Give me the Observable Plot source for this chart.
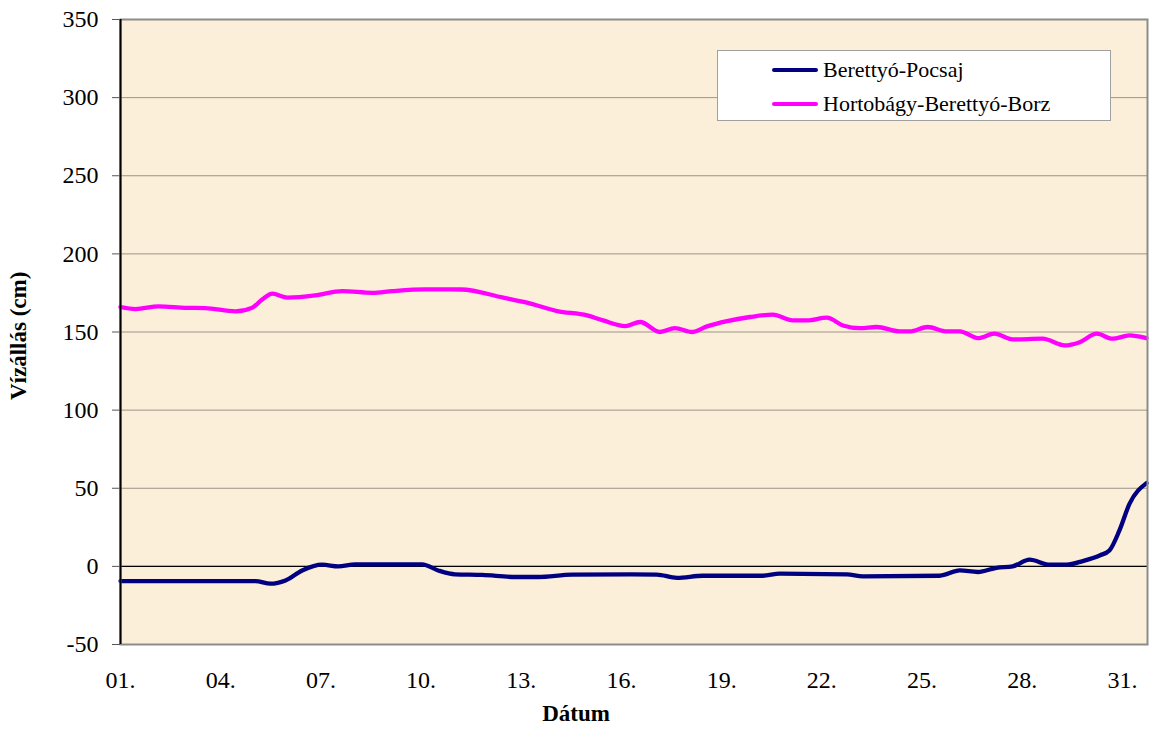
<!DOCTYPE html>
<html>
<head>
<meta charset="utf-8">
<script src="https://cdn.jsdelivr.net/npm/d3@7"></script>
<script src="https://cdn.jsdelivr.net/npm/@observablehq/plot@0.6"></script>
<style>
  body { margin: 0; background: #ffffff; }
  #wrap { position: relative; width: 1151px; height: 735px; }
  .legend { position: absolute; left: 717px; top: 50px; width: 394px; height: 71px;
            background: #ffffff; border: 1px solid #a0a0a0; box-sizing: border-box;
            font-family: "Liberation Serif", "Times New Roman", serif; font-size: 22px; color: #000; }
  .legend .item { position: absolute; left: 54px; height: 26px; display: flex; align-items: center; }
  .legend .swatch { width: 46px; height: 4px; border-radius: 2px; margin-right: 5px; }
</style>
</head>
<body>
<div id="wrap"></div>
<script>
// ---- data ----
const seriesNames = ["Berettyó-Pocsaj", "Hortobágy-Berettyó-Borz"];
const seriesColors = ["#000080", "#FF00FF"];

const pocsajDays = [1.0, 2.0, 3.0, 4.0, 5.04, 5.49, 5.94, 6.44, 7.04, 7.52, 8.03, 9.0, 10.03, 10.51, 11.02, 11.83,
  12.82, 13.5, 14.52, 16.3, 17.06, 17.66, 18.44, 20.23, 20.74, 22.75, 23.23, 25.53, 26.13, 26.67, 27.23, 27.71,
  28.22, 28.82, 29.33, 29.81, 30.32, 30.61, 30.91, 31.21, 31.72];
const pocsajValues = [-9.4, -9.4, -9.4, -9.4, -9.4, -11.1, -9.0, -2.6, 1.1, 0.0, 1.3, 1.3, 1.3, -2.6, -5.1, -5.5,
  -6.8, -6.8, -5.3, -5.1, -5.3, -7.3, -6.0, -6.0, -4.7, -5.1, -6.4, -6.0, -2.6, -3.6, -0.9, 0.0,
  4.3, 1.1, 1.1, 3.4, 7.0, 10.2, 23.0, 40.0, 53.3];

const borzDays = [1.0, 1.45, 2.14, 2.94, 3.54, 4.44, 4.95, 5.25, 5.55, 6.0, 6.83, 7.64, 8.54, 9.14, 10.12, 11.2,
  12.46, 13.17, 14.07, 14.97, 15.45, 16.11, 16.56, 17.15, 17.6, 18.11, 18.56, 19.16, 19.85, 20.53, 21.13, 21.55,
  22.15, 22.63, 23.14, 23.64, 24.33, 24.63, 25.17, 25.74, 26.13, 26.67, 27.17, 27.71, 28.61, 29.27, 29.72, 30.23,
  30.7, 31.21, 31.72];
const borzValues = [166, 164.7, 166.4, 165.5, 165.3, 163.2, 165.6, 171, 174.5, 172, 173.4, 176.2, 175.1, 176.2, 177.3, 177.2,
  172, 168.8, 163.4, 160.6, 157.4, 153.8, 156.4, 150, 152.5, 150, 153.6, 157, 159.6, 161.1, 157.4, 157.4,
  159.2, 154.2, 152.5, 153.2, 150.4, 150.4, 153.2, 150.4, 150.4, 146.1, 148.9, 145.3, 145.7, 141.4, 143.5, 148.9,
  145.7, 147.8, 146.1];

const xTickDays = [1, 4, 7, 10, 13, 16, 19, 22, 25, 28, 31];
const yTicks = [-50, 0, 50, 100, 150, 200, 250, 300, 350];
const xTitle = "Dátum";
const yTitle = "Vízállás (cm)";

// ---- table for Plot ----
const rows = [
  ...pocsajDays.map((d, i) => ({series: seriesNames[0], day: d, value: pocsajValues[i]})),
  ...borzDays.map((d, i) => ({series: seriesNames[1], day: d, value: borzValues[i]}))
];

const font = '"Liberation Serif", "Times New Roman", serif';

const chart = Plot.plot({
  width: 1151,
  height: 735,
  marginLeft: 120,
  marginRight: 4,
  marginTop: 19,
  marginBottom: 91,
  style: {fontFamily: font, fontSize: "24px", background: "transparent", color: "#000", overflow: "visible"},
  x: {domain: [1, 31.75], label: null},
  y: {domain: [-50, 350], label: null},
  color: {domain: seriesNames, range: seriesColors},
  marks: [
    Plot.frame({fill: "#FCEFD9", stroke: null}),
    Plot.gridY(yTicks, {stroke: "#9a9488", strokeOpacity: 1, strokeWidth: 1}),
    Plot.ruleY([0], {stroke: "#000", strokeWidth: 1.2}),
    Plot.line(rows, {x: "day", y: "value", z: "series", stroke: "series", strokeWidth: 4.3, curve: "monotone-x"}),
    Plot.frame({stroke: "#8c8c8c", strokeWidth: 2}),
    Plot.ruleX([1], {stroke: "#000", strokeWidth: 2}),
    Plot.axisY({ticks: yTicks, tickSize: 8, tickPadding: 14, fontSize: 24, label: null, stroke: "#555",
                tickFormat: d => String(d)}),
    Plot.axisX({ticks: xTickDays, tickSize: 0, tickPadding: 26, fontSize: 24, label: null,
                tickFormat: d => String(d).padStart(2, "0") + "."}),
    Plot.text([xTitle], {frameAnchor: "bottom", dx: -58, dy: 76, text: d => d, fontWeight: "bold", fontSize: 23}),
    Plot.text([yTitle], {frameAnchor: "left", dx: -102, dy: 68, rotate: -90, text: d => d, fontWeight: "bold", fontSize: 23})
  ]
});

const wrap = document.getElementById("wrap");
wrap.appendChild(chart);

// legend
const legend = document.createElement("div");
legend.className = "legend";
seriesNames.forEach((name, i) => {
  const item = document.createElement("div");
  item.className = "item";
  item.style.top = (6 + i * 34) + "px";
  const sw = document.createElement("span");
  sw.className = "swatch";
  sw.style.background = seriesColors[i];
  const label = document.createElement("span");
  label.textContent = name;
  item.appendChild(sw);
  item.appendChild(label);
  legend.appendChild(item);
});
wrap.appendChild(legend);
</script>
</body>
</html>
